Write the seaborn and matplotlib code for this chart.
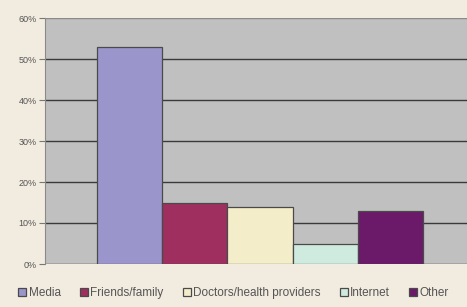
import pandas as pd
import matplotlib
matplotlib.use("Agg")
import matplotlib.pyplot as plt
import seaborn as sns
from matplotlib.ticker import PercentFormatter

sources = ["Media", "Friends/family", "Doctors/health providers", "Internet", "Other"]
shares = [53, 15, 14, 5, 13]
colors = ["#9a95cb", "#9e2f5f", "#f4edc9", "#cfeadf", "#6b1a6a"]

df = pd.DataFrame({"group": [""] * len(sources), "source": sources, "share": shares})

sns.set_style("white")
plt.rcParams["font.family"] = ["Liberation Sans", "DejaVu Sans"]

fig = plt.figure(figsize=(4.67, 3.07), dpi=100, facecolor="#f2ebdf")
ax = fig.add_axes([45 / 467, 1 - 264 / 307, 430 / 467, 246 / 307])
ax.set_facecolor("#c0c0c0")

sns.barplot(data=df, x="group", y="share", hue="source", hue_order=sources,
            palette=colors, saturation=1, width=0.76, edgecolor="#4a4a4a",
            linewidth=0.9, ax=ax, zorder=3)

ax.set_xlim(-0.5, 0.5)
ax.set_ylim(0, 60)
ax.set_yticks(range(0, 61, 10))
ax.yaxis.set_major_formatter(PercentFormatter(decimals=0))
ax.grid(axis="y", color="#3a3a3a", linewidth=1.0, zorder=1)
ax.set_axisbelow(True)
ax.set_xlabel("")
ax.set_ylabel("")
ax.set_xticks([])
ax.tick_params(axis="y", length=4, width=0.8, color="#777777", labelsize=6.5,
               labelcolor="#555555", pad=2, left=True)
for side in ["top", "right", "bottom"]:
    ax.spines[side].set_visible(False)
ax.spines["left"].set_color("#8a8a8a")
ax.get_ygridlines()[-1].set_color("#8a8a8a")

handles, labels = ax.get_legend_handles_labels()
ax.legend(handles, labels, loc="center", bbox_to_anchor=(0.5, 1 - 293 / 307),
          bbox_transform=fig.transFigure, ncol=5, frameon=False,
          fontsize=8.5, handlelength=0.7, handleheight=0.7, handletextpad=0.2,
          columnspacing=1.6, labelcolor="#555555")

fig.savefig("out.png", dpi=100, facecolor=fig.get_facecolor())
